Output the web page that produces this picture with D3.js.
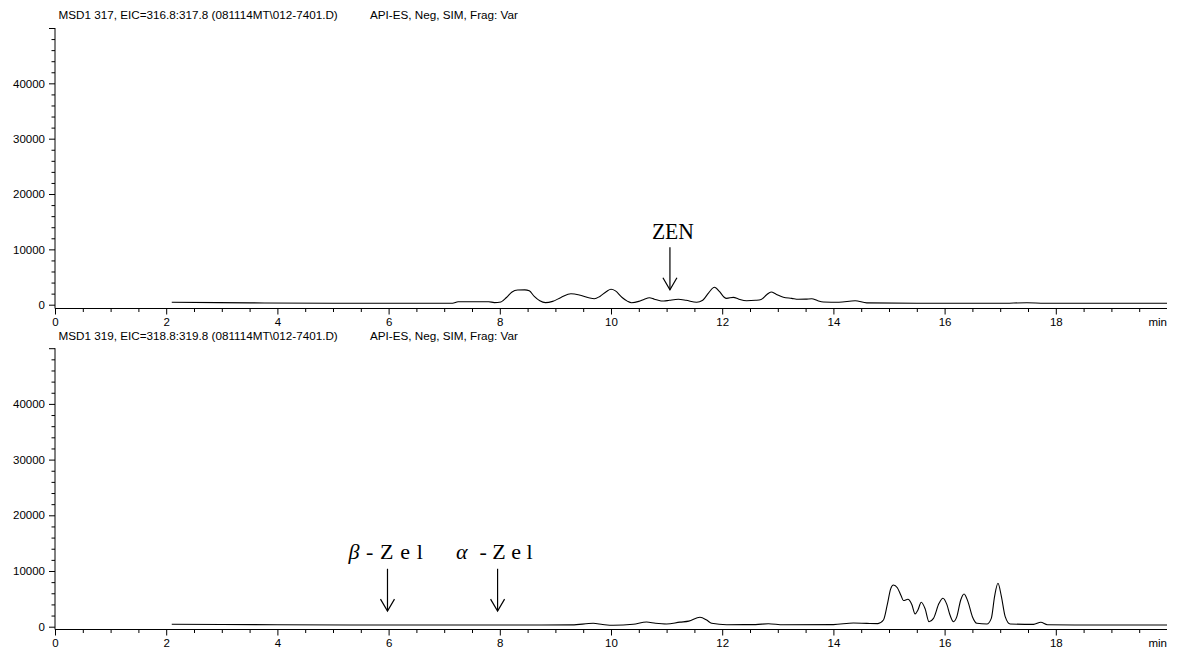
<!DOCTYPE html>
<html>
<head>
<meta charset="utf-8">
<script src="https://cdn.jsdelivr.net/npm/d3@7"></script>
<style>
  html, body { margin: 0; padding: 0; background: #fff; }
  svg { display: block; }
  .tick text { font-family: "Liberation Sans", Arial, sans-serif; }
</style>
</head>
<body>
<svg id="chart" width="1179" height="655"></svg>
<script>
// ---------------- data ----------------
const titleLeft = [
  "MSD1 317, EIC=316.8:317.8 (081114MT\\012-7401.D)",
  "MSD1 319, EIC=318.8:319.8 (081114MT\\012-7401.D)"
];
const titleRight = ["API-ES, Neg, SIM, Frag: Var", "API-ES, Neg, SIM, Frag: Var"];

const xMajorTicks = [0, 2, 4, 6, 8, 10, 12, 14, 16, 18];
const xUnitLabel = "min";
const yMajorTicks = [0, 10000, 20000, 30000, 40000, 50000];
const yTickLabels = ["0", "10000", "20000", "30000", "40000", ""];

// top trace (m/z 317)
const topTime = [2.1, 3.5, 5.0, 7.15, 7.25, 7.8, 7.9, 8.02, 8.12, 8.22, 8.32, 8.45, 8.53, 8.62, 8.72, 8.82,
  8.95, 9.1, 9.28, 9.45, 9.6, 9.7, 9.8, 9.92, 10.0, 10.08, 10.2, 10.3, 10.37, 10.5, 10.6, 10.69, 10.78,
  10.9, 10.95, 11.05, 11.21, 11.35, 11.54, 11.65, 11.76, 11.86, 11.95, 12.03, 12.08, 12.2, 12.3, 12.44,
  12.6, 12.7, 12.8, 12.88, 12.97, 13.1, 13.25, 13.37, 13.5, 13.61, 13.72, 13.82, 14.1, 14.39, 14.6,
  15.5, 17.0, 17.48, 17.8, 20.0];
const topIntensity = [430, 330, 260, 250, 520, 540, 380, 500, 1300, 2300, 2650, 2680, 2500, 1500, 700, 380,
  600, 1300, 1990, 1700, 1250, 1080, 1500, 2400, 2780, 2500, 1300, 600, 360, 600, 1000, 1260, 1000,
  680, 660, 800, 980, 800, 430, 800, 2200, 3140, 2400, 1400, 1150, 1330, 1000, 720,
  800, 950, 1800, 2300, 1900, 1340, 1150, 980, 1000, 1080, 700, 490, 430, 720, 330,
  260, 250, 360, 250, 250];

// bottom trace (m/z 319)
const bottomTime = [2.1, 4.0, 6.0, 8.0, 9.3, 9.68, 9.85, 10.04, 10.4, 10.64, 10.8, 11.0, 11.24, 11.4, 11.6,
  11.72, 11.81, 12.08, 12.6, 12.83, 13.1, 14.0, 14.36, 14.6, 14.8, 14.9, 14.97, 15.03, 15.08, 15.15,
  15.22, 15.26, 15.34, 15.41, 15.47, 15.52, 15.58, 15.65, 15.72, 15.8, 15.9, 15.97, 16.04, 16.1, 16.16,
  16.22, 16.29, 16.35, 16.42, 16.5, 16.58, 16.76, 16.84, 16.9, 16.96, 17.02, 17.09, 17.18, 17.6, 17.73,
  17.85, 18.5, 20.0];
const bottomIntensity = [430, 360, 300, 300, 330, 610, 400, 250, 450, 840, 620, 480, 820, 1000, 1690,
  1200, 610, 360, 380, 540, 360, 380, 660, 600, 560, 1200, 4000, 6800, 7490, 7000,
  5500, 4700, 4920, 4000, 2300, 3000, 4380, 3200, 900, 1500, 4200, 5100, 4000, 2000, 900,
  1800, 4800, 5870, 4500, 1800, 610, 480, 1500, 5500, 7790, 5500, 1800, 480, 420, 790,
  360, 300, 300];

// annotations
const topNotes = ["ZEN"];
const topNoteTimes = [11.06];
const bottomNotesGreek = ["\u03B2", "\u03B1"];
const bottomNotesRest = ["-Zel", "-Zel"];
const bottomNoteTimes = [5.98, 7.96];
const arrowTipIntensity = [2700, 2800];
const arrowTailIntensity = [10400, 10400];

// ---------------- layout ----------------
const svg = d3.select("#chart");
svg.append("rect").attr("width", 1179).attr("height", 655).attr("fill", "#fff");

const x = d3.scaleLinear().domain([0, 20]).range([55, 1167]);

const panelGeom = [
  { yZero: 304.7, yTop: 28, axisY: 308.5, titleY: 19 },
  { yZero: 626.7, yTop: 348.2, axisY: 629.5, titleY: 339.5 }
];
const series = [
  { t: topTime, v: topIntensity },
  { t: bottomTime, v: bottomIntensity }
];

const fontSans = '"Liberation Sans", Arial, sans-serif';
const fontSerif = '"Liberation Serif", "Times New Roman", serif';
const minorX = d3.range(0.5, 20, 0.5).filter(d => Math.abs(d % 2) > 1e-9);
const minorY = d3.range(0, 50001, 2000).filter(d => d % 10000 !== 0);

const yScales = [];

panelGeom.forEach((g, i) => {
  const y = d3.scaleLinear().domain([0, 50000]).range([g.yZero, g.yTop]);
  yScales.push(y);
  const G = svg.append("g");

  // title
  G.append("text").attr("x", 58.5).attr("y", g.titleY)
    .attr("font-family", fontSans).attr("font-size", 11.7).attr("fill", "#000")
    .text(titleLeft[i]);
  G.append("text").attr("x", 370).attr("y", g.titleY)
    .attr("font-family", fontSans).attr("font-size", 11.7).attr("fill", "#000")
    .text(titleRight[i]);

  // x axis (major)
  const xMaj = G.append("g").attr("transform", `translate(0,${g.axisY})`)
    .call(d3.axisBottom(x).tickValues(xMajorTicks).tickSize(6).tickSizeOuter(0).tickPadding(3));
  xMaj.select(".domain").remove();
  xMaj.selectAll(".tick text").attr("font-size", 11.5).attr("fill", "#000");
  xMaj.selectAll(".tick line").attr("stroke", "#000");
  // x minor
  const xMin = G.append("g").attr("transform", `translate(0,${g.axisY})`)
    .call(d3.axisBottom(x).tickValues(minorX).tickSize(3.5).tickSizeOuter(0).tickFormat(""));
  xMin.select(".domain").remove();
  xMin.selectAll(".tick line").attr("stroke", "#000");
  // x axis line
  G.append("line").attr("x1", x(0)).attr("x2", x(20)).attr("y1", g.axisY).attr("y2", g.axisY)
    .attr("stroke", "#000").attr("stroke-width", 1);
  // unit label
  G.append("text").attr("x", x(20)).attr("y", g.axisY + 17.5)
    .attr("text-anchor", "end").attr("font-family", fontSans).attr("font-size", 11.5)
    .attr("fill", "#000").text(xUnitLabel);

  // y axis (major)
  const yMaj = G.append("g").attr("transform", `translate(${x(0)},0)`)
    .call(d3.axisLeft(y).tickValues(yMajorTicks).tickSize(6).tickSizeOuter(0).tickPadding(4)
      .tickFormat((d, k) => yTickLabels[k]));
  yMaj.select(".domain").remove();
  yMaj.selectAll(".tick text").attr("font-size", 11.5).attr("fill", "#000");
  yMaj.selectAll(".tick line").attr("stroke", "#000");
  const yMin = G.append("g").attr("transform", `translate(${x(0)},0)`)
    .call(d3.axisLeft(y).tickValues(minorY).tickSize(3.5).tickSizeOuter(0).tickFormat(""));
  yMin.select(".domain").remove();
  yMin.selectAll(".tick line").attr("stroke", "#000");
  G.append("line").attr("x1", x(0)).attr("x2", x(0)).attr("y1", y(50000)).attr("y2", g.axisY)
    .attr("stroke", "#000").attr("stroke-width", 1);

  // trace
  const s = series[i];
  const pts = s.t.map((t, k) => [t, s.v[k]]);
  const line = d3.line().x(d => x(d[0])).y(d => y(d[1])).curve(d3.curveMonotoneX);
  G.append("path").datum(pts).attr("d", line)
    .attr("fill", "none").attr("stroke", "#000").attr("stroke-width", 1.1)
    .attr("stroke-linejoin", "round");
});

// arrows helper
function arrow(xp, yTail, yTip) {
  const A = svg.append("g").attr("stroke", "#000").attr("stroke-width", 1.2).attr("fill", "none");
  A.append("line").attr("x1", xp).attr("x2", xp).attr("y1", yTail).attr("y2", yTip);
  A.append("path").attr("d", `M${xp - 7},${yTip - 12}L${xp},${yTip}L${xp + 7},${yTip - 12}`);
}

// top annotations
topNotes.forEach((lab, k) => {
  const xp = x(topNoteTimes[k]);
  const y = yScales[0];
  arrow(xp, y(arrowTailIntensity[0]), y(arrowTipIntensity[0]));
  svg.append("text").attr("x", xp - 18).attr("y", y(arrowTailIntensity[0]) - 8.5)
    .attr("font-family", fontSerif)
    .attr("font-size", 23).attr("fill", "#000")
    .attr("textLength", 42).attr("lengthAdjust", "spacingAndGlyphs")
    .text(lab);
});

// bottom annotations
const greekDx = [-39, -41.5];
const restDx = [-21.5, -18];
const restLen = [57, 53];
bottomNotesGreek.forEach((gl, k) => {
  const xp = x(bottomNoteTimes[k]);
  const y = yScales[1];
  const yTail = y(arrowTailIntensity[1]);
  arrow(xp, yTail, y(arrowTipIntensity[1]));
  svg.append("text").attr("x", xp + greekDx[k]).attr("y", yTail - 10)
    .attr("font-family", fontSerif).attr("font-style", "italic")
    .attr("font-size", 22).attr("fill", "#000").text(gl);
  svg.append("text").attr("x", xp + restDx[k]).attr("y", yTail - 10)
    .attr("font-family", fontSerif)
    .attr("font-size", 22).attr("fill", "#000")
    .attr("textLength", restLen[k]).attr("lengthAdjust", "spacing")
    .text(bottomNotesRest[k]);
});
</script>
</body>
</html>
